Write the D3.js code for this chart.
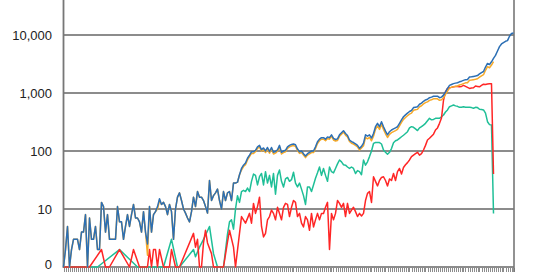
<!DOCTYPE html>
<html><head><meta charset="utf-8">
<script src="https://cdn.jsdelivr.net/npm/d3@7"></script>
<style>html,body{margin:0;padding:0;background:#fff;}svg{display:block;}</style>
</head><body>
<svg id="chart" width="540" height="272"></svg>
<script>
const _ = null;
const yTicks = [1, 10, 100, 1000, 10000];
const yTickLabels = ["0", "10", "100", "1,000", "10,000"];

const blue = [
0,2,5,0,2,3,3,3,2,4,
4,8,0,7,3,3,5,2,2,13,
11,4,8,3,3,3,3,11,6,6,
3,5,8,5,8,12,7,7,6,4,
9,4,2.5,11,4,8,9,11,15,12,
13,11,8,12,9,3,10,16,19,14,
10,8.5,7,6,9,16,11,20,16,16,
14,11,8.5,31,14,17,19,22,14,10,
20,14,19,20,14,28,28,29,39,50,
57,62,75,85,97,97,103,118,125,105,
113,100,115,98,115,95,98,105,125,95,
100,103,118,125,130,132,128,108,97,100,
90,82,90,95,100,100,118,144,160,170,
170,160,175,170,190,165,158,162,190,206,
224,200,185,155,145,140,133,125,111,120,
137,190,180,190,167,200,262,300,262,320,
262,220,190,215,230,240,250,262,300,345,
390,420,450,480,500,560,570,580,640,670,
720,760,780,830,850,880,880,880,830,850,
920,1050,1200,1350,1400,1450,1480,1500,1560,1600,
1650,1700,1710,1880,1900,1930,1960,2000,2130,2250,
2350,2800,3230,3100,3450,3950,4450,5300,6300,7000,
7400,7800,8000,9500,10600,10800
];

const orange = [
0,2,5,0,2,3,3,3,2,4,
4,8,0,7,3,3,5,2,2,13,
11,4,8,3,3,3,3,11,6,6,
3,5,8,5,8,12,7,7,6,4,
9,4,1.6,11,4,8,9,10,14,12,
13,11,8,12,9,3,10,16,19,14,
10,8.5,7,6,9,16,11,20,16,16,
14,11,8.5,31,14,17,19,22,14,10,
20,14,19,20,14,28,28,29,39,47,
54,58,70,80,91,91,97,111,118,99,
106,94,108,92,108,89,92,99,118,89,
94,97,111,118,122,124,120,102,91,94,
85,77,85,89,94,94,111,135,150,160,
160,150,164,160,179,155,149,152,179,194,
211,188,174,146,136,132,125,118,104,113,
123,171,162,171,150,180,236,270,236,288,
236,198,171,194,207,216,225,236,270,311,
351,378,405,432,450,504,513,522,576,603,
648,684,702,747,765,792,792,792,747,765,
828,945,1080,1215,1260,1276,1302,1320,1373,1408,
1452,1496,1505,1654,1672,1698,1725,1760,1874,1980,
2068,2464,2842,2728,3036,3476
];

const red = [
0,_,_,_,_,_,_,_,_,_,
_,_,_,0,_,_,_,_,_,2,
_,0,_,0,_,_,_,_,2,_,
_,_,_,0,_,2,_,_,0,_,
_,_,0,2,0,2,2,0,2,_,
0,_,_,0,2,_,0,_,0,_,
_,_,_,_,_,3.8,2.2,3,0,0,
2.6,4.3,2.6,_,1.7,0,_,_,_,_,
0,_,2.7,4.3,_,2.2,0,_,3.8,7.4,
6.5,5.7,6.9,8.4,5.7,12.5,8.4,11,16,5,
3.3,3.8,6.5,7.4,9.6,8.4,6.5,10.7,8.4,6.5,
10.7,12.5,12,7.4,10.7,14,13,7.4,8.4,5.7,
4.9,7.4,6.5,4.3,8.4,4.9,6.5,8.4,6.5,8.4,
8.4,10.7,13,2,8.4,6.5,8.4,14,12.5,10.7,
12.5,7.4,12.5,8.4,9.6,10.7,9,7.4,8.4,7.6,
8.4,14,18.6,20,13,36,30,25,31,35,
36,31,25,33,31,41,31,44,50,40,
52,58,63,70,80,85,90,95,85,90,
104,125,155,166,180,195,230,250,300,370,
750,1050,1200,1230,1250,1280,1300,1290,1280,1300,
1350,1300,1250,1200,1220,1230,1320,1300,1280,1350,
1420,1400,1430,1450,1450,40
];

const green = [
0,_,_,_,_,_,_,_,_,_,
_,_,_,_,_,_,_,0,_,_,
_,_,_,_,_,_,_,_,2,_,
_,_,_,_,_,_,_,0,_,_,
_,_,_,_,_,_,_,_,_,_,
0,_,_,_,3,_,_,0,0,_,
_,_,_,_,_,2,1.5,_,2.2,_,
3,_,_,5,_,1.7,_,0,_,_,
0,_,3.7,6,6.5,4.5,10,17,13,20,
21,20,23,20,30,40,38,26,36,41,
26,44,28,38,24,41,18,38,47,30,
24,33,35,30,32,43,28,24,28,22,
17,12,24,24,20,26,34,42,53,38,
50,38,30,53,44,42,50,60,70,65,
58,57,53,50,53,50,41,46,44,39,
70,57,65,80,100,135,140,140,140,132,
104,95,88,95,110,139,150,155,165,176,
187,200,215,250,263,256,240,225,250,263,
280,300,333,366,345,350,366,366,366,390,
418,470,510,580,600,621,600,590,566,570,
580,570,566,566,560,545,566,560,524,520,
510,450,320,285,280,8.4
];

const svg = d3.select("#chart");
const W = 540, H = 272;
const left = 63.5, right = 513.5, bottom = 267;

const x = d3.scaleLinear().domain([0, blue.length - 1]).range([left, right]);
const y = d3.scaleLog().domain([1, 10000]).range([bottom, 35]);

// gridlines
svg.append("g").selectAll("line").data(yTicks.slice(1)).join("line")
  .attr("x1", left).attr("x2", 514).attr("y1", d => y(d)).attr("y2", d => y(d))
  .attr("stroke", "#666").attr("stroke-width", 1.7);

// bottom axis line
svg.append("line").attr("x1", left).attr("x2", 514).attr("y1", bottom).attr("y2", bottom)
  .attr("stroke", "#666").attr("stroke-width", 1.7);

// x ticks
svg.append("g").selectAll("line").data(d3.range(blue.length)).join("line")
  .attr("x1", d => Math.round(x(d)) + 0.5).attr("x2", d => Math.round(x(d)) + 0.5)
  .attr("y1", bottom + 1).attr("y2", H)
  .attr("stroke", "#8c8c8c").attr("stroke-width", 1);

// left and right axis lines
svg.append("line").attr("x1", left).attr("x2", left).attr("y1", 0).attr("y2", bottom + 1)
  .attr("stroke", "#777").attr("stroke-width", 1.8);
svg.append("line").attr("x1", 514).attr("x2", 514).attr("y1", 0).attr("y2", H)
  .attr("stroke", "#777").attr("stroke-width", 1.6);

// y labels
svg.append("g").selectAll("text").data(yTicks).join("text")
  .attr("x", 52).attr("y", d => Math.min(y(d) + 4.5, 268.5))
  .attr("text-anchor", "end")
  .attr("font-family", "'Liberation Sans', Arial, sans-serif")
  .attr("font-size", 13).attr("fill", "#222")
  .text((d, i) => yTickLabels[i]);

const line = d3.line().x(d => x(d[0])).y(d => y(Math.max(1, d[1])));
function pts(arr) { return arr.map((v, i) => [i, v]).filter(d => d[1] !== null); }

const series = [
  {data: green, color: "#1fbf97"},
  {data: red, color: "#ff2626"},
  {data: orange, color: "#f6aa2a"},
  {data: blue, color: "#2c6fb4"}
];
svg.append("g").selectAll("path").data(series).join("path")
  .attr("d", s => line(pts(s.data)))
  .attr("fill", "none").attr("stroke", s => s.color)
  .attr("stroke-width", 1.5).attr("stroke-linejoin", "round");
</script>
</body></html>
